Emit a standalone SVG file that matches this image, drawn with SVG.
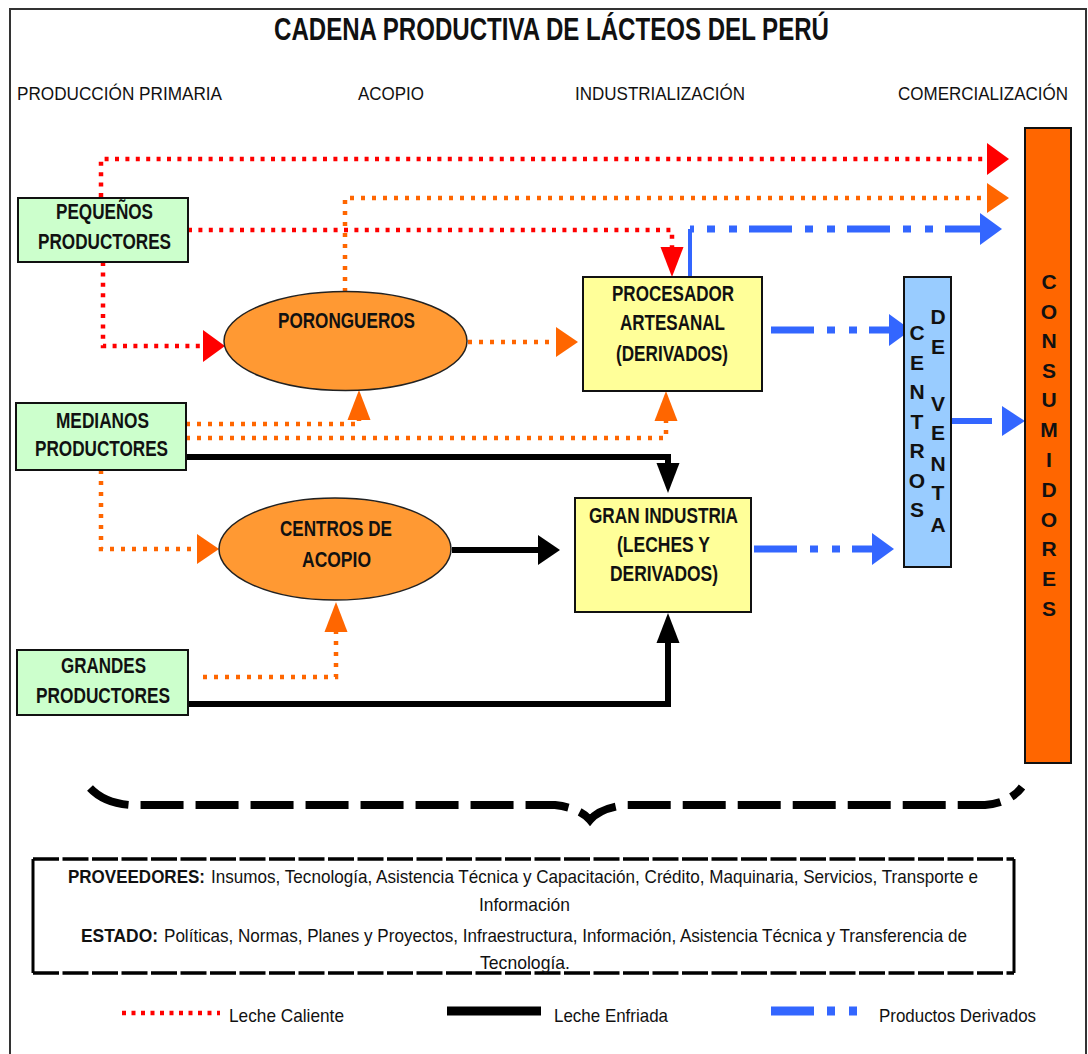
<svg xmlns="http://www.w3.org/2000/svg" width="1088" height="1054" viewBox="0 0 1088 1054">
<defs>
<style>
text{font-family:"Liberation Sans",Arial,sans-serif;fill:#111}
.title{font-size:31px;font-weight:bold}
.hdr{font-size:19px}
.lbl{font-size:22px;font-weight:bold}
.vl{font-size:21px;font-weight:bold;text-anchor:middle}
.sm{font-size:19px}
.b{font-weight:bold}
.node{stroke:#111;stroke-width:2}
.green{fill:#CCFFCC}
.yellow{fill:#FFFF99}
.ell{fill:#FF9933;stroke:#222;stroke-width:1.5}
.hot{fill:none;stroke:#FF0000;stroke-width:4.5;stroke-dasharray:4 6.4}
.warm{fill:none;stroke:#FF6600;stroke-width:4.5;stroke-dasharray:4 7}
.cold{fill:none;stroke:#000;stroke-width:6}
.der{fill:none;stroke:#3366FF;stroke-width:7;stroke-dasharray:43 13 8 14 8 12}
.blu{fill:none;stroke:#3366FF;stroke-width:6}
</style>
<marker id="rh" markerUnits="userSpaceOnUse" markerWidth="22" markerHeight="32" refX="0" refY="16" orient="auto" overflow="visible"><path d="M0,0 L22,16 L0,32 z" fill="#FF0000"/></marker>
<marker id="rv" markerUnits="userSpaceOnUse" markerWidth="30" markerHeight="23" refX="0" refY="11.5" orient="auto" overflow="visible"><path d="M0,0 L30,11.5 L0,23 z" fill="#FF0000"/></marker>
<marker id="oh" markerUnits="userSpaceOnUse" markerWidth="22" markerHeight="30" refX="0" refY="15" orient="auto" overflow="visible"><path d="M0,0 L22,15 L0,30 z" fill="#FF6600"/></marker>
<marker id="ov" markerUnits="userSpaceOnUse" markerWidth="30" markerHeight="23" refX="0" refY="11.5" orient="auto" overflow="visible"><path d="M0,0 L30,11.5 L0,23 z" fill="#FF6600"/></marker>
<marker id="kh" markerUnits="userSpaceOnUse" markerWidth="22" markerHeight="30" refX="0" refY="15" orient="auto" overflow="visible"><path d="M0,0 L22,15 L0,30 z" fill="#000"/></marker>
<marker id="kv" markerUnits="userSpaceOnUse" markerWidth="30" markerHeight="23" refX="0" refY="11.5" orient="auto" overflow="visible"><path d="M0,0 L30,11.5 L0,23 z" fill="#000"/></marker>
<marker id="bh" markerUnits="userSpaceOnUse" markerWidth="22" markerHeight="32" refX="0" refY="16" orient="auto" overflow="visible"><path d="M0,0 L22,16 L0,32 z" fill="#3366FF"/></marker>
<marker id="bg" markerUnits="userSpaceOnUse" markerWidth="33" markerHeight="30" refX="0" refY="15" orient="auto" overflow="visible"><path d="M10,0 L33,15 L10,30 z" fill="#3366FF"/></marker>
</defs>
<rect width="1088" height="1054" fill="#fff"/>
<path d="M10,1054 L10,9 L1086,9 L1086,1054" fill="none" stroke="#333" stroke-width="2"/>
<text class="title" x="274" y="40" textLength="555" lengthAdjust="spacingAndGlyphs">CADENA PRODUCTIVA DE LÁCTEOS DEL PERÚ</text>
<g id="headers">
<text class="hdr" x="17" y="100" textLength="205" lengthAdjust="spacingAndGlyphs">PRODUCCIÓN PRIMARIA</text>
<text class="hdr" x="358" y="100" textLength="66" lengthAdjust="spacingAndGlyphs">ACOPIO</text>
<text class="hdr" x="575" y="100" textLength="170" lengthAdjust="spacingAndGlyphs">INDUSTRIALIZACIÓN</text>
<text class="hdr" x="898" y="100" textLength="170" lengthAdjust="spacingAndGlyphs">COMERCIALIZACIÓN</text>
</g>
<g id="connectors">
<path class="hot" d="M101,197 L101,159 L987,159" marker-end="url(#rh)"/>
<path class="hot" d="M188,230 L672,230 L672,247" marker-end="url(#rv)"/>
<path class="hot" d="M103,262 L103,346 L203,346" marker-end="url(#rh)"/>
<path class="warm" d="M345,292 L345,198 L987,198" marker-end="url(#oh)"/>
<path class="warm" d="M468,342 L556,342" marker-end="url(#oh)"/>
<path class="warm" d="M186,424 L359,424 L359,420" marker-end="url(#ov)"/>
<path class="warm" d="M186,438 L666,438 L666,421" marker-end="url(#ov)"/>
<path class="warm" d="M101,470 L101,549 L197,549" marker-end="url(#oh)"/>
<path class="warm" d="M203,677 L336,677 L336,632" marker-end="url(#ov)"/>
<path class="cold" d="M186,457 L668,457 L668,463" marker-end="url(#kv)"/>
<path class="cold" d="M452,550 L538,550" marker-end="url(#kh)"/>
<path class="cold" d="M189,704 L668,704 L668,643" marker-end="url(#kv)"/>
<path d="M690,277 L690,229" fill="none" stroke="#3366FF" stroke-width="4"/>
<path class="der" d="M690,229 L980,229" stroke-dashoffset="39" marker-end="url(#bh)"/>
<path class="der" d="M771,330 L889,330" marker-end="url(#bh)"/>
<path class="der" d="M754,549 L872,549" marker-end="url(#bh)"/>
<path class="blu" d="M951,421 L992,421" marker-end="url(#bg)"/>
</g>
<g id="pequenos">
<rect class="node green" x="18" y="198" width="170" height="64"/>
<text class="lbl" x="56" y="219" textLength="97" lengthAdjust="spacingAndGlyphs">PEQUEÑOS</text>
<text class="lbl" x="38" y="249" textLength="133" lengthAdjust="spacingAndGlyphs">PRODUCTORES</text>
</g>
<g id="medianos">
<rect class="node green" x="16" y="403" width="170" height="67"/>
<text class="lbl" x="56" y="428" textLength="93" lengthAdjust="spacingAndGlyphs">MEDIANOS</text>
<text class="lbl" x="35" y="456" textLength="133" lengthAdjust="spacingAndGlyphs">PRODUCTORES</text>
</g>
<g id="grandes">
<rect class="node green" x="17" y="650" width="171" height="65"/>
<text class="lbl" x="61" y="673" textLength="85" lengthAdjust="spacingAndGlyphs">GRANDES</text>
<text class="lbl" x="36" y="703" textLength="134" lengthAdjust="spacingAndGlyphs">PRODUCTORES</text>
</g>
<g id="porongueros">
<ellipse class="ell" cx="345.5" cy="341" rx="121.5" ry="49.5"/>
<text class="lbl" x="278" y="328" textLength="137" lengthAdjust="spacingAndGlyphs">PORONGUEROS</text>
</g>
<g id="centros-acopio">
<ellipse class="ell" cx="335" cy="549" rx="116" ry="51"/>
<text class="lbl" x="280" y="536" textLength="112" lengthAdjust="spacingAndGlyphs">CENTROS DE</text>
<text class="lbl" x="302" y="567" textLength="69" lengthAdjust="spacingAndGlyphs">ACOPIO</text>
</g>
<g id="procesador">
<rect class="node yellow" x="583" y="277" width="179" height="114"/>
<text class="lbl" x="612" y="301" textLength="122" lengthAdjust="spacingAndGlyphs">PROCESADOR</text>
<text class="lbl" x="620" y="330" textLength="105" lengthAdjust="spacingAndGlyphs">ARTESANAL</text>
<text class="lbl" x="616" y="361" textLength="112" lengthAdjust="spacingAndGlyphs">(DERIVADOS)</text>
</g>
<g id="gran-industria">
<rect class="node yellow" x="575" y="498" width="176" height="114"/>
<text class="lbl" x="589" y="523" textLength="149" lengthAdjust="spacingAndGlyphs">GRAN INDUSTRIA</text>
<text class="lbl" x="617" y="552" textLength="93" lengthAdjust="spacingAndGlyphs">(LECHES Y</text>
<text class="lbl" x="610" y="581" textLength="108" lengthAdjust="spacingAndGlyphs">DERIVADOS)</text>
</g>
<g id="centros-venta">
<rect class="node" x="904" y="277" width="47" height="290" fill="#99CCFF"/>
<text class="vl" x="917" y="340">C</text>
<text class="vl" x="917" y="370">E</text>
<text class="vl" x="917" y="399">N</text>
<text class="vl" x="917" y="429">T</text>
<text class="vl" x="917" y="458">R</text>
<text class="vl" x="917" y="488">O</text>
<text class="vl" x="917" y="517">S</text>
<text class="vl" x="938" y="324">D</text>
<text class="vl" x="938" y="354">E</text>
<text class="vl" x="938" y="411">V</text>
<text class="vl" x="938" y="440">E</text>
<text class="vl" x="938" y="471">N</text>
<text class="vl" x="938" y="500">T</text>
<text class="vl" x="938" y="532">A</text>
</g>
<g id="consumidores">
<rect class="node" x="1025" y="128" width="46" height="635" fill="#FF6600"/>
<text class="vl" x="1049" y="289">C</text>
<text class="vl" x="1049" y="319">O</text>
<text class="vl" x="1049" y="348">N</text>
<text class="vl" x="1049" y="378">S</text>
<text class="vl" x="1049" y="407">U</text>
<text class="vl" x="1049" y="437">M</text>
<text class="vl" x="1049" y="467">I</text>
<text class="vl" x="1049" y="497">D</text>
<text class="vl" x="1049" y="527">O</text>
<text class="vl" x="1049" y="556">R</text>
<text class="vl" x="1049" y="586">E</text>
<text class="vl" x="1049" y="616">S</text>
</g>
<path d="M90,788 Q104,803 130,805 L555,805 Q580,808 590,820 Q600,808 625,805 L985,805 Q1010,803 1022,787" fill="none" stroke="#000" stroke-width="8" stroke-dasharray="43 12"/>
<g id="actores">
<path d="M33,859 L1014,859 M33,973 L1014,973" fill="none" stroke="#000" stroke-width="3.5" stroke-dasharray="26 3.5"/>
<path d="M33,859 L33,973 M1014,859 L1014,973" fill="none" stroke="#000" stroke-width="3"/>
<text class="sm b" x="68" y="883" textLength="137" lengthAdjust="spacingAndGlyphs">PROVEEDORES:</text>
<text class="sm" x="211" y="883" textLength="767" lengthAdjust="spacingAndGlyphs">Insumos, Tecnología, Asistencia Técnica y Capacitación, Crédito, Maquinaria, Servicios, Transporte e</text>
<text class="sm" x="479" y="911" textLength="91" lengthAdjust="spacingAndGlyphs">Información</text>
<text class="sm b" x="81" y="942" textLength="77" lengthAdjust="spacingAndGlyphs">ESTADO:</text>
<text class="sm" x="164" y="942" textLength="803" lengthAdjust="spacingAndGlyphs">Políticas, Normas, Planes y Proyectos, Infraestructura, Información, Asistencia Técnica y Transferencia de</text>
<text class="sm" x="480" y="969" textLength="90" lengthAdjust="spacingAndGlyphs">Tecnología.</text>
</g>
<g id="leyenda">
<path d="M122,1013 L220,1013" fill="none" stroke="#FF0000" stroke-width="4.5" stroke-dasharray="4 5.5"/>
<text class="sm" x="229" y="1022" textLength="115" lengthAdjust="spacingAndGlyphs">Leche Caliente</text>
<path d="M447,1011 L541,1011" fill="none" stroke="#000" stroke-width="9"/>
<text class="sm" x="554" y="1022" textLength="114" lengthAdjust="spacingAndGlyphs">Leche Enfriada</text>
<path d="M771,1011 L857,1011" fill="none" stroke="#3366FF" stroke-width="9" stroke-dasharray="43 13 8 14 8 12"/>
<text class="sm" x="879" y="1022" textLength="157" lengthAdjust="spacingAndGlyphs">Productos Derivados</text>
</g>
</svg>
